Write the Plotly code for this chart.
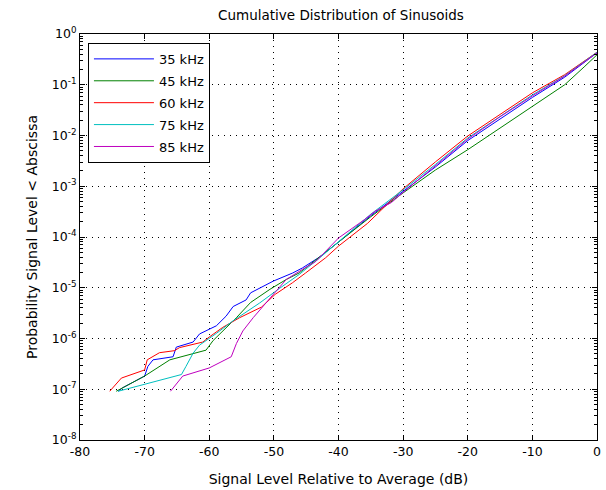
import plotly.graph_objects as go

# ---- data ----
x_35 = [-74.1, -73.4, -70, -69.5, -68.7, -65.6, -65.1, -62.5, -61.5, -58.9, -57.4, -56.3, -54.3, -53.6,
        -50.1, -47.1, -45.6, -43, -40, -35, -30, -25, -20, -15, -10, -5, 0]
p_35 = [9.12e-8, 1.07e-7, 1.82e-7, 2.82e-7, 3.80e-7, 4.37e-7, 6.76e-7, 8.51e-7, 1.23e-6, 1.78e-6, 2.75e-6,
        4.27e-6, 5.75e-6, 7.94e-6, 1.35e-5, 1.95e-5, 2.45e-5, 3.98e-5, 7.94e-5, 2.63e-4, 7.94e-4, 2.40e-3,
        7.94e-3, 2.09e-2, 5.62e-2, 0.141, 0.427]

x_45 = [-74.4, -70, -66.1, -62, -60.5, -59.4, -57.9, -55.8, -53.6, -50.6, -48.1, -46.1, -43, -40, -35,
        -30, -25, -20, -15, -10, -5, -2, 0]
p_45 = [9.12e-8, 1.82e-7, 3.80e-7, 5.25e-7, 5.89e-7, 9.12e-7, 1.41e-6, 2.57e-6, 5.13e-6, 9.33e-6, 1.45e-5,
        1.95e-5, 3.98e-5, 7.94e-5, 2.51e-4, 7.41e-4, 2.09e-3, 5.25e-3, 1.41e-2, 3.80e-2, 0.100, 0.224, 0.389]

x_60 = [-75.4, -73.6, -70, -69.6, -67.7, -65.4, -64.6, -61, -60, -57.9, -55.3, -53.2, -51.9, -49.8, -47.1,
        -45.1, -42, -40, -37, -35.5, -30, -25, -20, -15, -10, -5, 0]
p_60 = [9.12e-8, 1.66e-7, 2.40e-7, 3.80e-7, 5.25e-7, 5.75e-7, 6.61e-7, 8.51e-7, 1.07e-6, 1.66e-6, 2.57e-6,
        3.47e-6, 4.17e-6, 7.41e-6, 1.26e-5, 1.95e-5, 3.89e-5, 6.61e-5, 1.29e-4, 1.86e-4, 8.91e-4, 3.02e-3,
        9.77e-3, 2.63e-2, 6.92e-2, 0.158, 0.437]

x_75 = [-74.1, -66.1, -64.3, -63.6, -62.5, -61.5, -58.9, -56.3, -52.2, -49.1, -46.1, -43, -40, -35, -30,
        -25, -20, -15, -10, -5, 0]
p_75 = [9.12e-8, 1.66e-7, 1.95e-7, 2.82e-7, 5.13e-7, 7.41e-7, 1.26e-6, 2.24e-6, 5.01e-6, 9.77e-6, 1.82e-5,
        3.80e-5, 7.94e-5, 2.82e-4, 8.51e-4, 2.69e-3, 8.91e-3, 2.40e-2, 6.31e-2, 0.151, 0.437]

x_85 = [-66, -65.4, -64.1, -60, -58.5, -56.6, -55.8, -54.8, -53.2, -51.6, -48.1, -45.6, -43.5, -40, -38.5,
        -36, -34.3, -31.8, -30, -25, -20, -15, -10, -5, 0]
p_85 = [9.12e-8, 1.15e-7, 1.82e-7, 2.63e-7, 3.24e-7, 4.37e-7, 7.94e-7, 1.41e-6, 2.57e-6, 4.37e-6, 1.45e-5,
        2.29e-5, 3.31e-5, 9.55e-5, 1.29e-4, 2.19e-4, 3.24e-4, 4.79e-4, 7.59e-4, 2.51e-3, 8.51e-3, 2.34e-2,
        6.03e-2, 0.148, 0.427]

series_names = ["35 kHz", "45 kHz", "60 kHz", "75 kHz", "85 kHz"]
series_colors = ["#0000FF", "#008000", "#FF0000", "#00BFBF", "#BF00BF"]
series_x = [x_35, x_45, x_60, x_75, x_85]
series_p = [p_35, p_45, p_60, p_75, p_85]

x_ticks = [-80, -70, -60, -50, -40, -30, -20, -10, 0]
y_exps = [0, -1, -2, -3, -4, -5, -6, -7, -8]
minor_mult = [2, 3, 4, 5, 6, 7, 8, 9]

FONT = "DejaVu Sans, Liberation Sans, sans-serif"

fig = go.Figure()
for name, col, xs, ps in zip(series_names, series_colors, series_x, series_p):
    fig.add_trace(go.Scatter(x=xs, y=ps, mode="lines", name=name, legendgroup=name,
                             line=dict(color=col, width=1)))

fig.update_layout(
    width=606, height=490,
    margin=dict(l=80, r=5, t=34, b=47),
    paper_bgcolor="white", plot_bgcolor="white",
    font=dict(family=FONT, size=12.5, color="black"),
    title=dict(text="Cumulative Distribution of Sinusoids", x=341 / 606, xanchor="center",
               y=1 - 15 / 490, yanchor="middle", font=dict(size=13.5, family=FONT, color="black")),
    legend=dict(x=8 / 521, y=1 - 9 / 409, xanchor="left", yanchor="top", bgcolor="white",
                bordercolor="black", borderwidth=1, font=dict(size=13, family=FONT),
                itemwidth=60, tracegroupgap=2),
    showlegend=True,
)

fig.update_xaxes(
    range=[-80, 0], tickvals=x_ticks, ticktext=[str(v) for v in x_ticks],
    showline=True, linecolor="black", linewidth=1, mirror="allticks",
    ticks="inside", ticklen=5, tickcolor="black",
    showgrid=True, gridcolor="black", gridwidth=1, griddash="1px,5px",
    zeroline=False,
    title=dict(text="Signal Level Relative to Average (dB)", font=dict(size=14), standoff=16),
)

fig.update_yaxes(
    type="log", range=[-8, 0],
    tickvals=[10 ** e for e in y_exps],
    ticktext=["10<sup>%d</sup>" % e for e in y_exps],
    showline=True, linecolor="black", linewidth=1, mirror="allticks",
    ticks="inside", ticklen=5, tickcolor="black",
    minor=dict(ticks="inside", ticklen=3, tickcolor="black", showgrid=False,
               tickmode="array",
               tickvals=[m * 10 ** e for e in range(-8, 0) for m in minor_mult]),
    showgrid=True, gridcolor="black", gridwidth=1, griddash="1px,5px",
    zeroline=False,
    title=dict(text="Probability Signal Level &lt; Abscissa", font=dict(size=14), standoff=10),
)

fig.write_html("out.html")
